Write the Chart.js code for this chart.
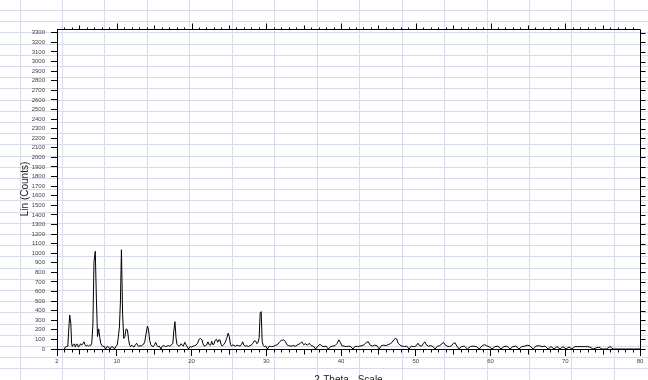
<!DOCTYPE html>
<html>
<head>
<meta charset="utf-8">
<script src="https://cdn.jsdelivr.net/npm/chart.js@4"></script>
<style>
  body { margin: 0; background: #fff; }
  canvas { display: block; }
</style>
</head>
<body>
<canvas id="xrd" width="648" height="380"></canvas>
<script>
// 2-Theta (deg) of each point
var twoTheta = [
  3.0, 3.1, 3.3, 3.45, 3.55, 3.7, 3.85, 3.95, 4.05, 4.2, 4.35, 4.45,
  4.6, 4.75, 4.85, 5.0, 5.15, 5.3, 5.45, 5.6, 5.75, 5.9, 6.05, 6.2,
  6.35, 6.5, 6.65, 6.8, 6.95, 7.12, 7.27, 7.42, 7.58, 7.72, 7.85, 8.0,
  8.15, 8.3, 8.5, 8.7, 8.9, 9.1, 9.3, 9.5, 9.7, 9.9, 10.05, 10.2,
  10.35, 10.48, 10.62, 10.78, 10.93, 11.08, 11.25, 11.42, 11.58, 11.72, 11.85, 12.0,
  12.15, 12.3, 12.5, 12.65, 12.8, 12.95, 13.1, 13.3, 13.45, 13.6, 13.75, 13.9,
  14.1, 14.25, 14.4, 14.55, 14.7, 14.9, 15.05, 15.2, 15.35, 15.5, 15.7, 15.9,
  16.1, 16.3, 16.5, 16.7, 16.9, 17.1, 17.3, 17.5, 17.62, 17.78, 17.92, 18.05,
  18.2, 18.4, 18.6, 18.75, 18.9, 19.1, 19.25, 19.4, 19.6, 19.8, 20.0, 20.2,
  20.4, 20.6, 20.8, 21.0, 21.2, 21.4, 21.55, 21.7, 21.85, 22.0, 22.2, 22.35,
  22.55, 22.7, 22.85, 23.0, 23.15, 23.35, 23.5, 23.65, 23.8, 23.95, 24.1, 24.3,
  24.5, 24.7, 24.9, 25.05, 25.2, 25.35, 25.5, 25.7, 25.9, 26.1, 26.3, 26.5,
  26.7, 26.85, 27.0, 27.2, 27.4, 27.6, 27.8, 28.0, 28.2, 28.4, 28.6, 28.75,
  28.9, 29.05, 29.18, 29.32, 29.45, 29.6, 29.75, 29.95, 30.15, 30.4, 30.7, 31.0,
  31.3, 31.55, 31.8, 32.0, 32.3, 32.55, 32.75, 33.0, 33.3, 33.6, 33.9, 34.2,
  34.5, 34.75, 35.0, 35.25, 35.5, 35.75, 36.0, 36.3, 36.6, 36.9, 37.2, 37.45,
  37.7, 38.0, 38.3, 38.6, 38.9, 39.2, 39.5, 39.7, 39.9, 40.1, 40.4, 40.7,
  41.0, 41.3, 41.6, 41.9, 42.2, 42.5, 42.8, 43.1, 43.4, 43.65, 43.9, 44.2,
  44.5, 44.8, 45.1, 45.4, 45.7, 46.0, 46.3, 46.6, 46.85, 47.05, 47.25, 47.45,
  47.65, 47.9, 48.2, 48.5, 48.8, 49.1, 49.4, 49.7, 50.0, 50.3, 50.5, 50.8,
  51.0, 51.2, 51.4, 51.7, 52.0, 52.3, 52.6, 52.9, 53.2, 53.5, 53.7, 53.9,
  54.2, 54.5, 54.8, 55.05, 55.25, 55.5, 55.8, 56.1, 56.5, 56.9, 57.3, 57.7,
  58.1, 58.5, 58.9, 59.2, 59.45, 59.8, 60.2, 60.6, 61.0, 61.4, 61.8, 62.2,
  62.6, 63.0, 63.4, 63.8, 64.2, 64.6, 65.0, 65.3, 65.7, 66.1, 66.5, 66.9,
  67.3, 67.7, 68.1, 68.5, 68.9, 69.3, 69.7, 70.1, 70.5, 70.9, 71.3, 71.7,
  72.1, 72.5, 72.9, 73.3, 73.7, 74.5, 74.9, 75.5, 76.0, 76.4, 78.0, 80.0
];

// Lin (Counts) at each 2-Theta
var counts = [
  0, 20, 25, 30, 180, 355, 270, 60, 25, 50, 50, 20,
  50, 50, 20, 30, 55, 40, 55, 75, 45, 30, 40, 30,
  40, 35, 60, 250, 910, 1020, 530, 130, 210, 120, 60, 40,
  25, 30, 0, 25, 20, 0, 25, 20, 0, 30, 40, 120,
  230, 480, 1035, 360, 110, 130, 210, 200, 100, 40, 25, 40,
  30, 20, 45, 60, 40, 25, 35, 30, 45, 50, 80, 150,
  240, 200, 90, 45, 30, 25, 45, 70, 40, 25, 30, 0,
  30, 35, 25, 30, 35, 30, 40, 60, 180, 285, 120, 50,
  35, 30, 55, 40, 30, 70, 45, 25, 0, 25, 20, 30,
  35, 40, 60, 100, 110, 95, 50, 30, 35, 40, 75, 45,
  40, 80, 45, 50, 90, 100, 70, 95, 95, 50, 30, 45,
  70, 110, 165, 130, 50, 30, 45, 35, 30, 40, 35, 30,
  50, 75, 40, 30, 35, 25, 35, 40, 60, 85, 80, 55,
  70, 120, 375, 390, 80, 35, 25, 30, 0, 30, 25, 30,
  40, 50, 75, 90, 95, 80, 45, 35, 30, 35, 30, 45,
  55, 75, 45, 55, 40, 60, 35, 30, 0, 30, 50, 30,
  25, 30, 0, 25, 30, 35, 60, 95, 70, 35, 30, 25,
  30, 25, 0, 30, 25, 30, 35, 45, 70, 75, 40, 30,
  40, 35, 0, 35, 40, 35, 45, 55, 70, 95, 110, 105,
  60, 40, 30, 25, 30, 0, 30, 25, 30, 60, 35, 30,
  55, 75, 45, 30, 35, 25, 0, 30, 35, 55, 70, 45,
  30, 25, 35, 60, 65, 30, 0, 25, 30, 0, 25, 30,
  25, 0, 35, 45, 35, 25, 0, 25, 30, 0, 25, 30,
  0, 25, 30, 0, 25, 30, 40, 30, 0, 30, 35, 25,
  30, 0, 25, 0, 25, 0, 25, 0, 20, 0, 25, 25,
  25, 25, 25, 20, 0, 20, 0, 0, 25, 0, 0, 0
];

// axis labels
var xLabelTicks = [2, 10, 20, 30, 40, 50, 60, 70, 80];
var yLabelTop = 3300;

Chart.defaults.font.family = 'Arial, "Liberation Sans", sans-serif';

// spreadsheet cells behind the chart
var sheetGrid = {
  id: 'sheetGrid',
  beforeDraw: function (chart) {
    var c = chart.ctx;
    c.save();
    c.fillStyle = '#fff';
    c.fillRect(0, 0, chart.width, chart.height);
    c.strokeStyle = '#d6dcea';
    c.lineWidth = 1;
    c.beginPath();
    for (var x = 19.5; x < chart.width; x += 42.46) {
      var px = Math.round(x) + 0.5;
      c.moveTo(px, 0); c.lineTo(px, chart.height);
    }
    for (var y = 10; y < chart.height; y += 11.2) {
      var py = Math.round(y) + 0.5;
      c.moveTo(0, py); c.lineTo(chart.width, py);
    }
    c.stroke();
    c.restore();
  }
};

// frame on top/right plus the small tick marks
var frameTicks = {
  id: 'frameTicks',
  afterDraw: function (chart) {
    var c = chart.ctx, a = chart.chartArea;
    var xs = chart.scales.x, ys = chart.scales.y;
    c.save();
    c.strokeStyle = '#000';
    c.lineWidth = 1;
    c.beginPath();
    var top = Math.round(a.top) + 0.5, right = Math.round(a.right) + 0.5, bottom = Math.round(a.bottom) + 0.5;
    c.moveTo(a.left, top); c.lineTo(right, top); c.lineTo(right, bottom);
    for (var t = 3; t < 80; t++) {
      var px = Math.round(xs.getPixelForValue(t)) + 0.5;
      var up = t % 10 === 0 ? 6 : (t % 5 === 0 ? 4 : 2);
      c.moveTo(px, top); c.lineTo(px, top - up);
      if (t % 10 !== 0) {
        var down = t % 5 === 0 ? 5 : 3;
        c.moveTo(px, bottom); c.lineTo(px, bottom + down);
      }
    }
    for (var v = 0; v <= yLabelTop; v += 100) {
      var py = Math.round(ys.getPixelForValue(v)) + 0.5;
      c.moveTo(right, py); c.lineTo(right + 5, py);
    }
    c.stroke();
    c.restore();
  }
};

var points = twoTheta.map(function (t, i) { return { x: t, y: counts[i] }; });

new Chart(document.getElementById('xrd'), {
  type: 'line',
  data: {
    datasets: [{
      data: points,
      borderColor: '#000',
      borderWidth: 1,
      pointRadius: 0,
      tension: 0,
      fill: false
    }]
  },
  options: {
    responsive: false,
    animation: false,
    layout: { padding: { top: 29, right: 8, left: 0, bottom: 0 } },
    plugins: { legend: { display: false }, tooltip: { enabled: false } },
    scales: {
      x: {
        type: 'linear',
        min: 2,
        max: 80,
        afterBuildTicks: function (scale) {
          scale.ticks = xLabelTicks.map(function (v) { return { value: v }; });
        },
        afterFit: function (scale) { scale.height = 31; },
        grid: { drawOnChartArea: false, tickLength: 7, color: '#000' },
        border: { color: '#000', width: 1 },
        ticks: {
          autoSkip: false, maxRotation: 0, padding: 2, color: '#444', font: { size: 6 },
          callback: function (v) { return String(v); }
        },
        title: {
          display: true,
          text: '2-Theta - Scale',
          color: '#222',
          font: { size: 10 },
          padding: { top: 0, bottom: -6 }
        }
      },
      y: {
        min: 0,
        max: 3340,
        afterBuildTicks: function (scale) {
          scale.ticks = scale.ticks.filter(function (t) { return t.value % 100 === 0 && t.value <= yLabelTop; });
        },
        afterFit: function (scale) { scale.width = 57; },
        grid: { drawOnChartArea: false, tickLength: 6, color: '#000' },
        border: { color: '#000', width: 1 },
        ticks: {
          stepSize: 100, includeBounds: false, autoSkip: false, padding: 6, color: '#444', font: { size: 6 },
          callback: function (v) { return String(v); }
        },
        title: {
          display: true,
          text: 'Lin (Counts)',
          color: '#222',
          font: { size: 10 },
          padding: { top: 19, bottom: 0 }
        }
      }
    }
  },
  plugins: [sheetGrid, frameTicks]
});
</script>
</body>
</html>
